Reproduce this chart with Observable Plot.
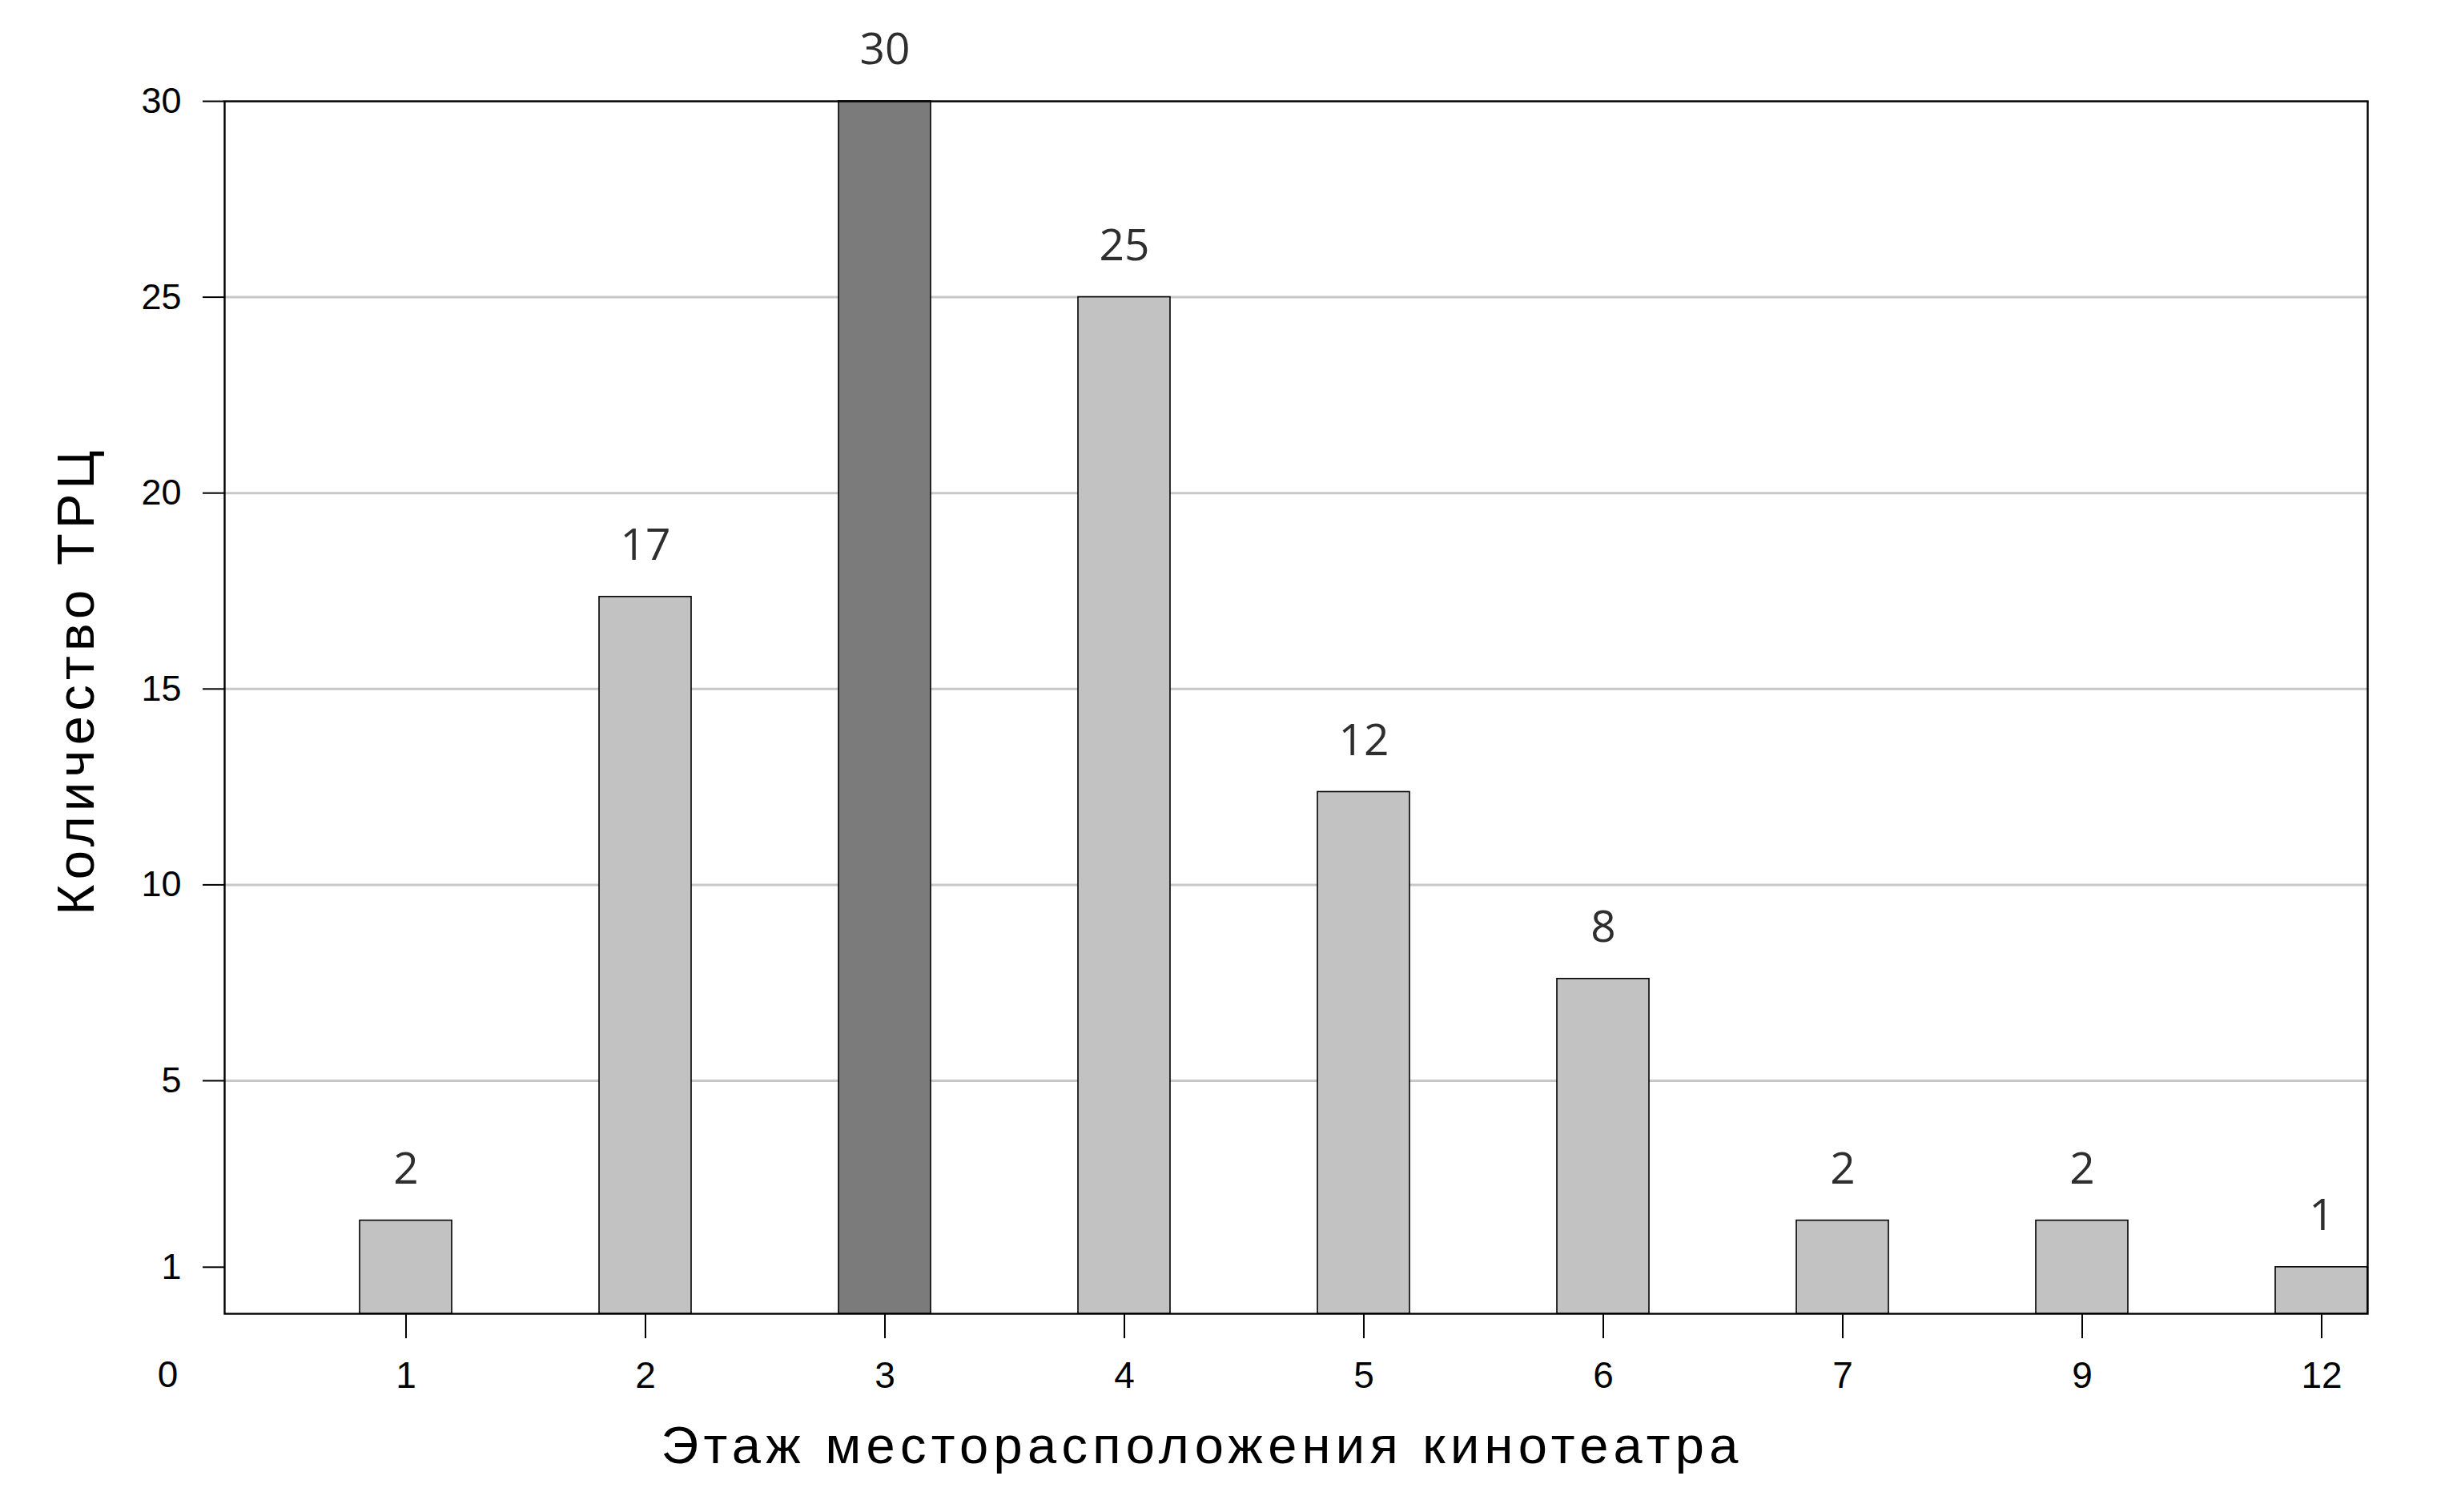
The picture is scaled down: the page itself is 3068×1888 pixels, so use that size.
<!DOCTYPE html>
<html>
<head>
<meta charset="utf-8">
<script src="https://cdn.jsdelivr.net/npm/d3@7"></script>
<script src="https://cdn.jsdelivr.net/npm/@observablehq/plot@0.6"></script>
<style>
  html, body { margin: 0; padding: 0; background: #fff; }
</style>
</head>
<body>
<div id="chart"></div>
<script>
// ---- data ----
const floors = ["1", "2", "3", "4", "5", "6", "7", "9", "12"];
const counts = [2, 17, 30, 25, 12, 8, 2, 2, 1];
const barHeights = [2, 17.35, 30, 25, 12.37, 7.6, 2, 2, 1];
const highlightFloor = "3";
const yTicks = [1, 5, 10, 15, 20, 25, 30];
const gridTicks = [5, 10, 15, 20, 25];
const xTitle = "Этаж месторасположения кинотеатра";
const yTitle = "Количество ТРЦ";
const yZeroLabel = "0";

// ---- layout ----
const W = 3068, H = 1888;
const mTop = 126, mBottom = 248, mLeft = 280, mRight = 112;
const yAt5 = 1349; // axis is piecewise: 0–5 stretched, 5–30 linear

const data = floors.map((f, i) => ({floor: f, count: counts[i], height: barHeights[i]}));

const chart = Plot.plot({
  width: W,
  height: H,
  marginTop: mTop,
  marginBottom: mBottom,
  marginLeft: mLeft,
  marginRight: mRight,
  style: {fontFamily: "'Liberation Sans', Arial, sans-serif", fontSize: "46px", background: "#fff", color: "#000"},
  x: {type: "band", domain: floors, paddingInner: 0.616, paddingOuter: 0.2755, align: 1, label: null},
  y: {type: "linear", domain: [0, 5, 30], range: [H - mBottom, yAt5, mTop], label: null},
  color: {type: "identity"},
  marks: [
    Plot.ruleY(gridTicks, {stroke: "#c8c8c8", strokeWidth: 3}),
    Plot.barY(data, {
      x: "floor", y: "height",
      fill: d => d.floor === highlightFloor ? "#7b7b7b" : "#c3c2c3",
      stroke: "#000", strokeWidth: 1.6
    }),
    Plot.text(data, {
      x: "floor", y: "height", text: d => String(d.count),
      dy: -64, fontSize: 55, fontFamily: "'Open Sans', 'Noto Sans', sans-serif", fill: "#2e2e2e"
    }),
    Plot.frame({stroke: "#000", strokeWidth: 2.4}),
    Plot.axisY({ticks: yTicks, tickSize: 27, tickPadding: 27, fontSize: 45, strokeWidth: 2, label: null}),
    Plot.axisX({tickSize: 31, tickPadding: 29, fontSize: 46, strokeWidth: 2, label: null}),
    Plot.text([yZeroLabel], {
      text: d => d, frameAnchor: "bottom-left", dx: -71, dy: 77,
      textAnchor: "middle", lineAnchor: "middle", fontSize: 46, fill: "#000"
    }),
    Plot.text([xTitle], {
      text: d => d, frameAnchor: "bottom-left", dx: 545, dy: 166,
      textAnchor: "start", lineAnchor: "middle", fontSize: 65, fill: "#000"
    }),
    Plot.text([yTitle], {
      text: d => d, frameAnchor: "left", dx: -184, dy: 259, rotate: -90,
      textAnchor: "start", lineAnchor: "middle", fontSize: 65, fill: "#000"
    })
  ]
});

// spaced-out axis titles, as in the reference
d3.select(chart).selectAll("text")
  .filter(function () { const t = this.textContent; return t === xTitle || t === yTitle; })
  .style("letter-spacing", "6.3px");

document.getElementById("chart").appendChild(chart);
</script>
</body>
</html>
